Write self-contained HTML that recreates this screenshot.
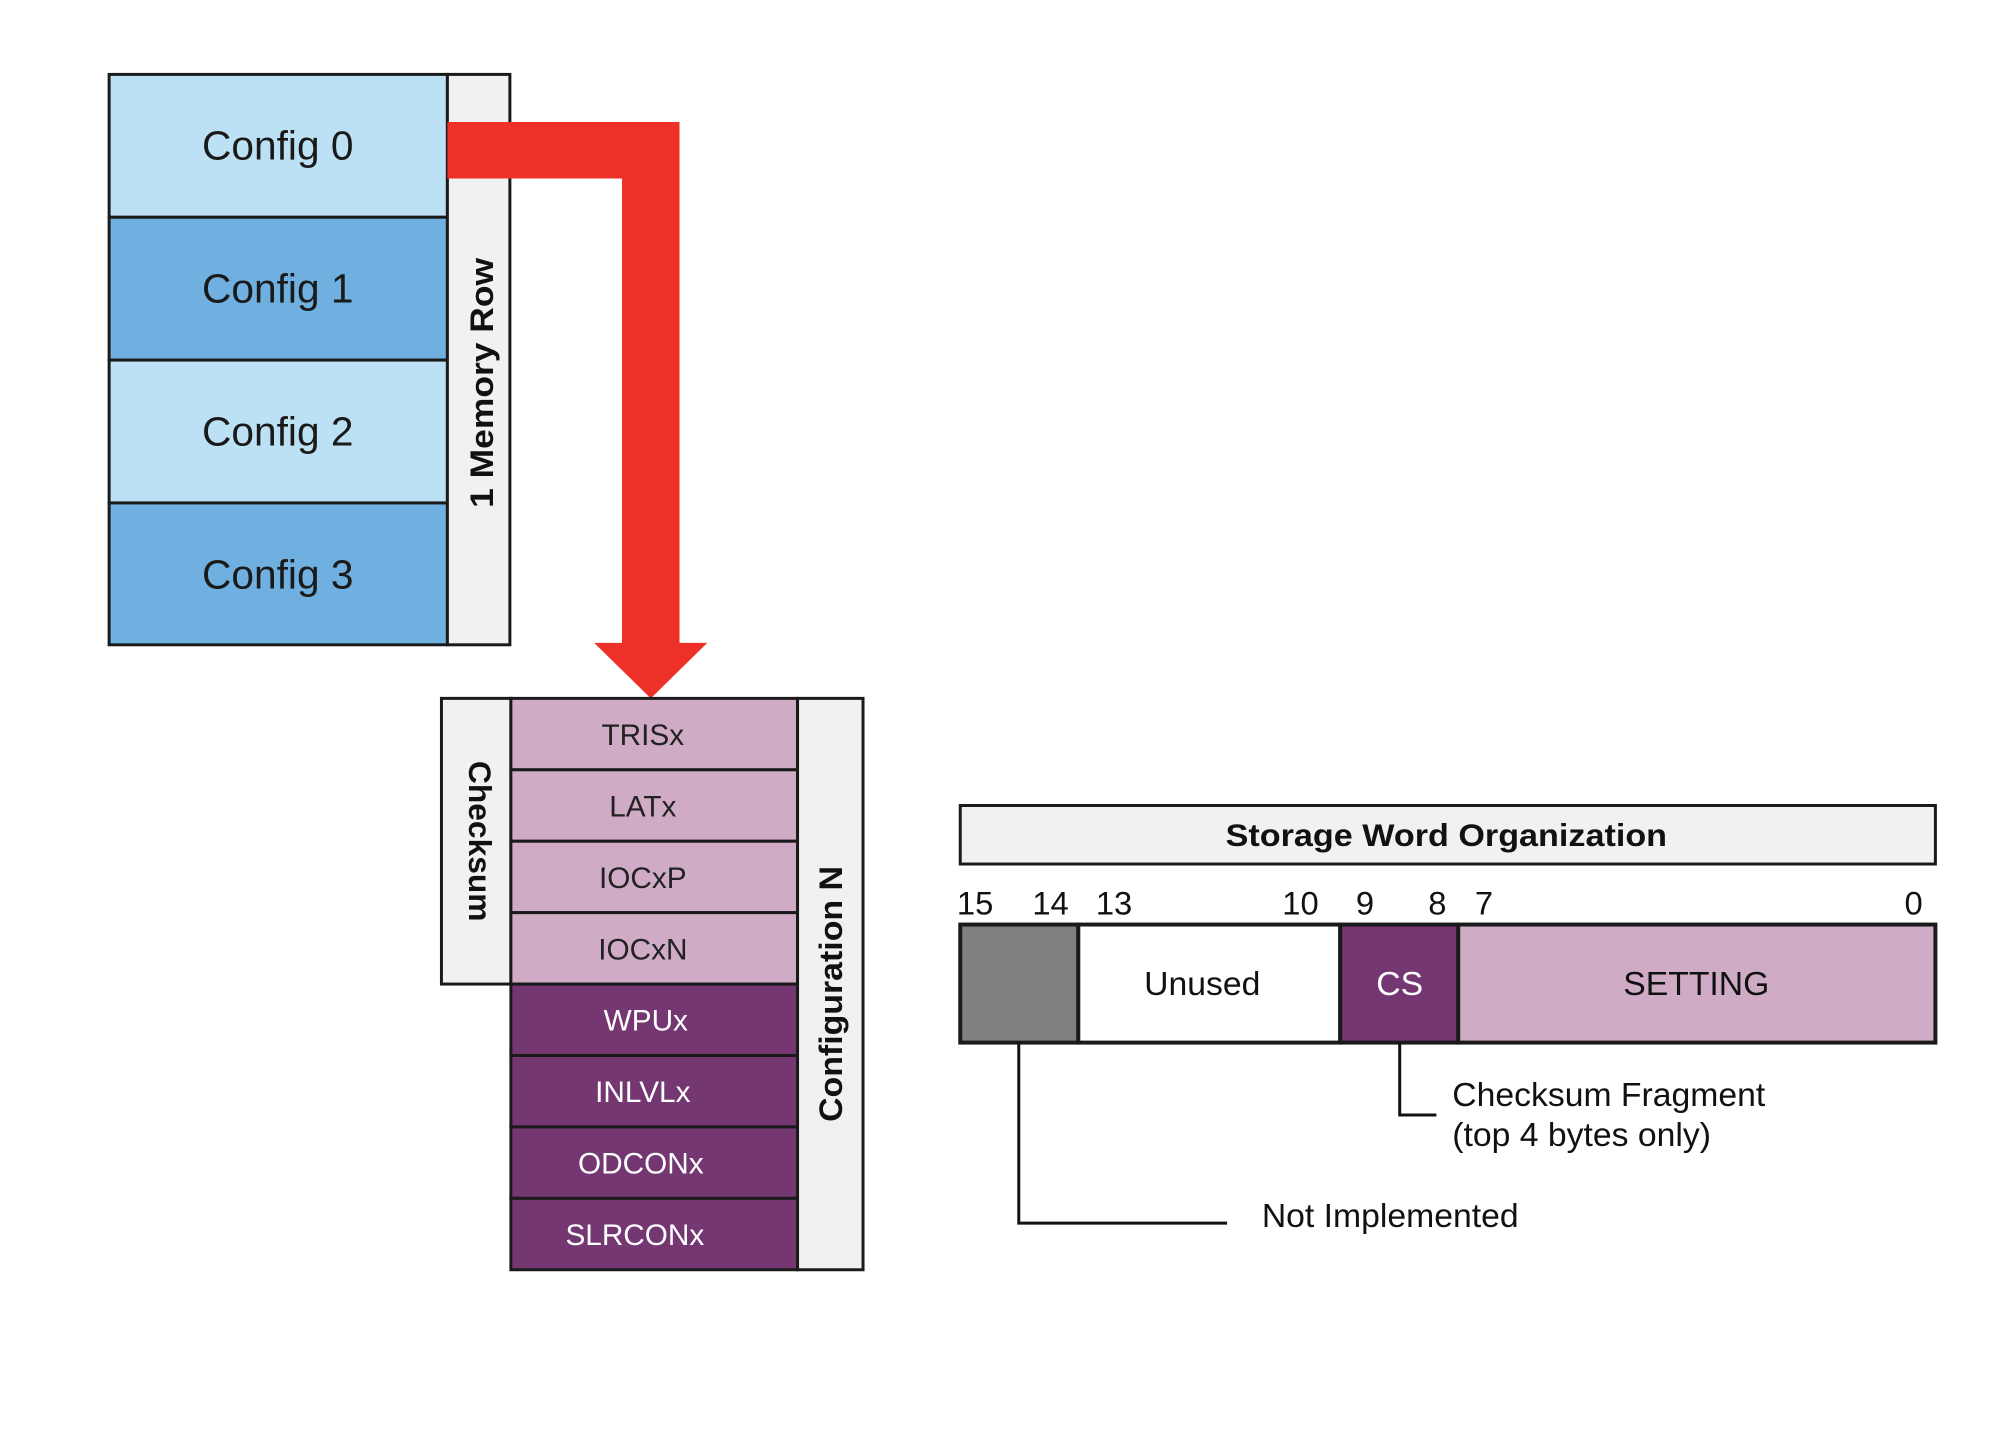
<!DOCTYPE html>
<html><head><meta charset="utf-8"><style>
html,body{margin:0;padding:0;background:#fff;}
svg{display:block;}
text{font-family:"Liberation Sans",sans-serif;}
</style></head><body>
<svg width="2000" height="1429" viewBox="0 0 2000 1429" xmlns="http://www.w3.org/2000/svg">
<rect width="2000" height="1429" fill="#fff"/>
<g transform="scale(0.992)">
<g stroke="#1a1a1a" stroke-width="3">
<rect x="110" y="75" width="341" height="144" fill="#bde1f4"/>
<rect x="110" y="219" width="341" height="144" fill="#6fb0e1"/>
<rect x="110" y="363" width="341" height="144" fill="#bde1f4"/>
<rect x="110" y="507" width="341" height="143" fill="#6fb0e1"/>
<rect x="451" y="75" width="63" height="575" fill="#f1f1f1"/>
</g>
<g font-size="41" fill="#1a1a1a" text-anchor="middle">
<text x="280" y="161">Config 0</text>
<text x="280" y="305">Config 1</text>
<text x="280" y="449">Config 2</text>
<text x="280" y="593">Config 3</text>
</g>
<text transform="translate(497,386) rotate(-90)" font-size="33" font-weight="bold" text-anchor="middle" fill="#111" textLength="252" lengthAdjust="spacingAndGlyphs">1 Memory Row</text>
<polygon points="451,123 685,123 685,648 713,648 656,704 599,648 627,648 627,180 451,180" fill="#ee3128"/>
<rect x="445" y="704" width="70" height="288" fill="#f1f1f1" stroke="#1a1a1a" stroke-width="3"/>
<text transform="translate(473,848) rotate(90)" font-size="32" font-weight="bold" text-anchor="middle" fill="#111">Checksum</text>
<g stroke="#1a1a1a" stroke-width="3">
<rect x="515" y="704" width="289" height="72" fill="#d0abc6"/>
<rect x="515" y="776" width="289" height="72" fill="#d0abc6"/>
<rect x="515" y="848" width="289" height="72" fill="#d0abc6"/>
<rect x="515" y="920" width="289" height="72" fill="#d0abc6"/>
<rect x="515" y="992" width="289" height="72" fill="#743772"/>
<rect x="515" y="1064" width="289" height="72" fill="#743772"/>
<rect x="515" y="1136" width="289" height="72" fill="#743772"/>
<rect x="515" y="1208" width="289" height="72" fill="#743772"/>
<rect x="804" y="704" width="66" height="576" fill="#f1f1f1"/>
</g>
<g font-size="30" text-anchor="middle">
<text x="648" y="751" fill="#222">TRISx</text>
<text x="648" y="823" fill="#222">LATx</text>
<text x="648" y="895" fill="#222">IOCxP</text>
<text x="648" y="967" fill="#222">IOCxN</text>
<text x="651" y="1039" fill="#fff">WPUx</text>
<text x="648" y="1111" fill="#fff">INLVLx</text>
<text x="646" y="1183" fill="#fff">ODCONx</text>
<text x="640" y="1255" fill="#fff">SLRCONx</text>
</g>
<text transform="translate(849,1002) rotate(-90)" font-size="33" font-weight="bold" text-anchor="middle" fill="#111" textLength="258" lengthAdjust="spacingAndGlyphs">Configuration N</text>
<rect x="968" y="812" width="983" height="59" fill="#f1f1f1" stroke="#1a1a1a" stroke-width="3"/>
<text x="1458" y="853" font-size="32" font-weight="bold" text-anchor="middle" fill="#111" textLength="445" lengthAdjust="spacingAndGlyphs">Storage Word Organization</text>
<g font-size="33" fill="#111" text-anchor="middle">
<text x="983" y="922">15</text>
<text x="1059" y="922">14</text>
<text x="1123" y="922">13</text>
<text x="1311" y="922">10</text>
<text x="1376" y="922">9</text>
<text x="1449" y="922">8</text>
<text x="1496" y="922">7</text>
<text x="1929" y="922">0</text>
</g>
<g stroke="#1a1a1a" stroke-width="4">
<rect x="968" y="932" width="119" height="119" fill="#808080"/>
<rect x="1087" y="932" width="264" height="119" fill="#fff"/>
<rect x="1351" y="932" width="119" height="119" fill="#743772"/>
<rect x="1470" y="932" width="481" height="119" fill="#d0abc6"/>
</g>
<text x="1212" y="1003" font-size="34" text-anchor="middle" fill="#111">Unused</text>
<text x="1411" y="1003" font-size="34" text-anchor="middle" fill="#fff">CS</text>
<text x="1710" y="1003" font-size="34" text-anchor="middle" fill="#111">SETTING</text>
<g stroke="#111" stroke-width="3" fill="none">
<polyline points="1027,1051 1027,1233 1237,1233"/>
<polyline points="1411,1051 1411,1124 1448,1124"/>
</g>
<g font-size="34" fill="#111">
<text x="1464" y="1115">Checksum Fragment</text>
<text x="1464" y="1155">(top 4 bytes only)</text>
<text x="1272" y="1237">Not Implemented</text>
</g>
</g>
</svg>
</body></html>
